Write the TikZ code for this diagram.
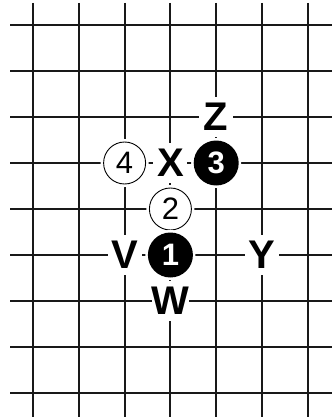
\documentclass[tikz,border=0pt]{standalone}
\usepackage{fontspec}
\setmainfont{Liberation Sans}
\begin{document}
\begin{tikzpicture}[x=1pt,y=-1pt,
  gridline/.style={line width=2pt,black!90},
  whitestone/.style={circle,draw=black,line width=0.9pt,fill=white,minimum size=42pt,inner sep=0pt,
    preaction={draw=white,line width=6pt},font=\fontsize{31}{31}\selectfont},
  blackstone/.style={circle,fill=black,text=white,minimum size=45pt,inner sep=0pt,
    preaction={draw=white,line width=5pt},font=\fontsize{31}{31}\selectfont\bfseries},
  letter/.style={fill=white,minimum width=34pt,minimum height=40pt,inner sep=0pt,
    font=\fontsize{40}{40}\selectfont\bfseries}]
\useasboundingbox (0,0) rectangle (332,417);
\fill[white] (0,0) rectangle (332,417);
% grid
\foreach \j in {0,...,8} \draw[gridline] (10,25+46*\j) -- (332,25+46*\j);
\foreach \i in {0,...,6} \draw[gridline] (33+45.8*\i,3) -- (33+45.8*\i,417);
% labels
\node[letter] (Z) at (33+45.8*4,25+46*2) {Z};
\node[letter] (X) at (33+45.8*3,25+46*3) {X};
\node[letter] (V) at (33+45.8*2,25+46*5) {V};
\node[letter] (Y) at (33+45.8*5,25+46*5) {Y};
\node[letter] (W) at (33+45.8*3,25+46*6) {W};
% stones
\node[whitestone] (s4) at (33+45.8*2,25+46*3) {4};
\node[blackstone] (s3) at (33+45.8*4,25+46*3) {3};
\node[whitestone] (s2) at (33+45.8*3,25+46*4) {2};
\node[blackstone] (s1) at (33+45.8*3,25+46*5) {1};
\end{tikzpicture}
\end{document}
